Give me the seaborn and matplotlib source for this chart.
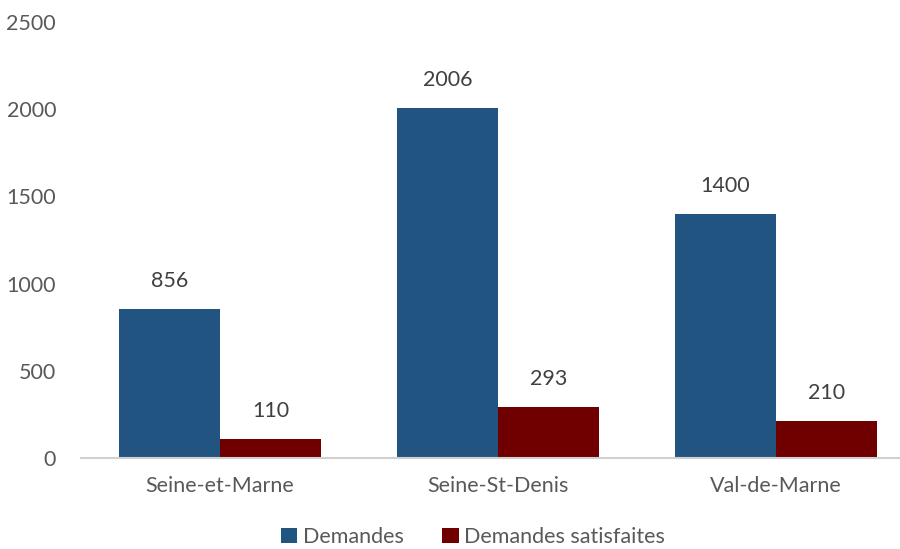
import pandas as pd
import matplotlib
matplotlib.use("Agg")
import matplotlib.pyplot as plt
import seaborn as sns

departements = ["Seine-et-Marne", "Seine-St-Denis", "Val-de-Marne"]
demandes = [856, 2006, 1400]
satisfaites = [110, 293, 210]
series = ["Demandes", "Demandes satisfaites"]
couleurs = ["#225482", "#700000"]

df = pd.DataFrame({
    "departement": departements * 2,
    "valeur": demandes + satisfaites,
    "serie": [series[0]] * 3 + [series[1]] * 3,
})

sns.set_theme(style="white")
plt.rcParams["font.family"] = ["Lato", "DejaVu Sans"]
gris = "#595959"
taille = 15.5

fig = plt.figure(figsize=(9, 5.49), dpi=100)
ax = fig.add_axes([81 / 900, 91 / 549, 834 / 900, 436 / 549])

sns.barplot(data=df, x="departement", y="valeur", hue="serie", palette=couleurs,
            width=0.727, saturation=1, ax=ax, edgecolor="none")

for cont in ax.containers:
    ax.bar_label(cont, labels=[str(int(v)) for v in cont.datavalues],
                 padding=13, fontsize=taille, color="#404040")

ax.set_ylim(0, 2500)
ax.set_xlim(-0.5, 2.5)
ax.set_yticks([0, 500, 1000, 1500, 2000, 2500])
ax.tick_params(axis="y", labelsize=taille, labelcolor=gris, length=0, pad=18)
ax.tick_params(axis="x", labelsize=taille, labelcolor=gris, length=0, pad=13)
ax.set_xlabel("")
ax.set_ylabel("")
for s in ["top", "right", "left"]:
    ax.spines[s].set_visible(False)
ax.spines["bottom"].set_color("#d0d0d0")
ax.spines["bottom"].set_linewidth(1.5)

# legende en bas, centree
handles, labels = ax.get_legend_handles_labels()
ax.legend(handles, labels, loc="center", bbox_to_anchor=(473 / 900, 12 / 549),
          bbox_transform=fig.transFigure, ncol=2, frameon=False, fontsize=taille,
          handlelength=0.75, handleheight=0.75, handletextpad=0.25, columnspacing=1.8,
          labelcolor=gris, borderpad=0.1)

fig.savefig("out.png", dpi=100)
